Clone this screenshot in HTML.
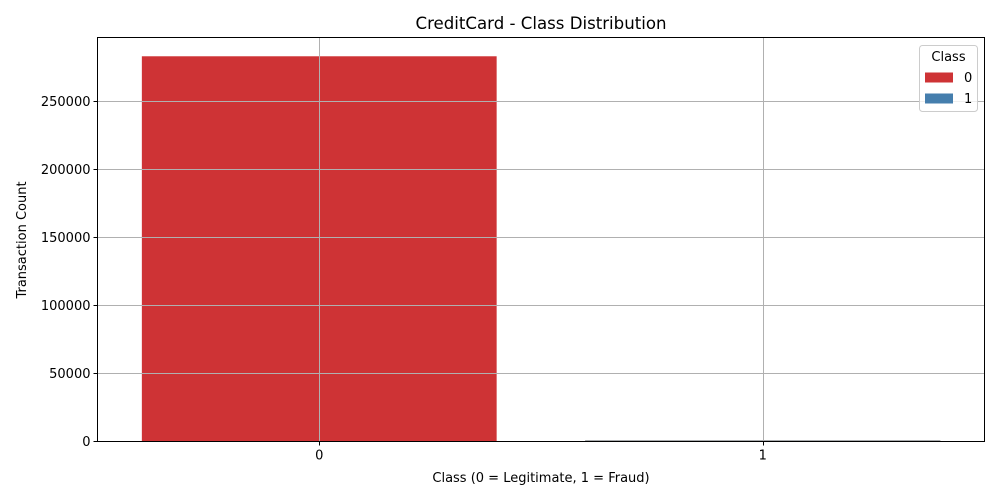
<!DOCTYPE html>
<html><head><meta charset="utf-8"><style>
html,body{margin:0;padding:0;background:#fff;}
svg{display:block;font-family:"DejaVu Sans","Liberation Sans",sans-serif;}
</style></head><body>
<svg id="chart" width="1000" height="500" viewBox="0 0 1000 500">
<rect width="1000" height="500" fill="#fff"/>
<text x="541" y="29" font-size="16.6" text-anchor="middle" fill="#000">CreditCard - Class Distribution</text>
<g id="bars"></g>
<g id="grid"></g>
<rect x="97.5" y="37.5" width="887" height="404" fill="none" stroke="#000" stroke-width="1"/>
<g id="yticks"></g>
<g id="xticks"></g>
<text x="541" y="482" font-size="13" text-anchor="middle">Class (0 = Legitimate, 1 = Fraud)</text>
<text transform="translate(26,240) rotate(-90)" font-size="13" text-anchor="middle">Transaction Count</text>
<g>
<rect x="919.5" y="45.5" width="58" height="66" rx="3" fill="#fff" fill-opacity="0.8" stroke="#ccc"/>
<text x="948.5" y="61" font-size="13" text-anchor="middle">Class</text>
<g><rect x="925" y="72.5" width="28" height="10" fill="#ce3335"/><text x="964" y="82" font-size="13">0</text></g>
<g><rect x="925" y="93.5" width="28" height="10" fill="#457ead"/><text x="964" y="103" font-size="13">1</text></g>
</g>
</svg>
<script>
const categories = ["0", "1"];
const counts = [283253, 473];
const colors = ["#ce3335", "#457ead"];
const yTicks = [0, 50000, 100000, 150000, 200000, 250000];
const NS = "http://www.w3.org/2000/svg";
const L = 97.5, R = 984.5, T = 37.5, B = 441.5;
const yMax = 250000 * (B - T) / (441.5 - 101.5);
function xS(i){ return L + (i + 0.5) * (R - L) / 2; }
function yS(v){ return B - v / yMax * (B - T); }
function mk(tag, attrs, parent){ const e = document.createElementNS(NS, tag); for (const k in attrs) e.setAttribute(k, attrs[k]); parent.appendChild(e); return e; }
const bars = document.getElementById('bars'), grid = document.getElementById('grid');
const yt = document.getElementById('yticks'), xt = document.getElementById('xticks');
const bw = 0.8 * (R - L) / 2;
categories.forEach((c, i) => {
  const r = mk('rect', {x: xS(i) - bw/2, y: yS(counts[i]), width: bw, height: B - yS(counts[i]), fill: colors[i], stroke: i === 1 ? '#333' : 'none', 'stroke-width': 0.5}, bars);
  
  
  const gx = Math.round(xS(i)) + 0.5;
  const g = mk('line', {x1: gx, x2: gx, y1: T, y2: B, stroke: '#b0b0b0', 'stroke-width': 1}, grid);
  
  
  mk('line', {x1: gx, x2: gx, y1: B, y2: B + 4, stroke: '#000'}, xt);
  const t = mk('text', {x: xS(i), y: B + 18, 'font-size': 13, 'text-anchor': 'middle'}, xt);
  t.textContent = c;
  
  
});
yTicks.forEach(v => {
  const y = Math.round(yS(v) - 0.5) + 0.5;
  if (v > 0) {
    const g = mk('line', {x1: L, x2: R, y1: y, y2: y, stroke: '#b0b0b0', 'stroke-width': 1}, grid);
    
    
  }
  mk('line', {x1: L - 4, x2: L, y1: y, y2: y, stroke: '#000'}, yt);
  const t = mk('text', {x: L - 7, y: y + 4.5, 'font-size': 13, 'text-anchor': 'end'}, yt);
  t.textContent = v;
  
  
});
</script>
</body></html>
